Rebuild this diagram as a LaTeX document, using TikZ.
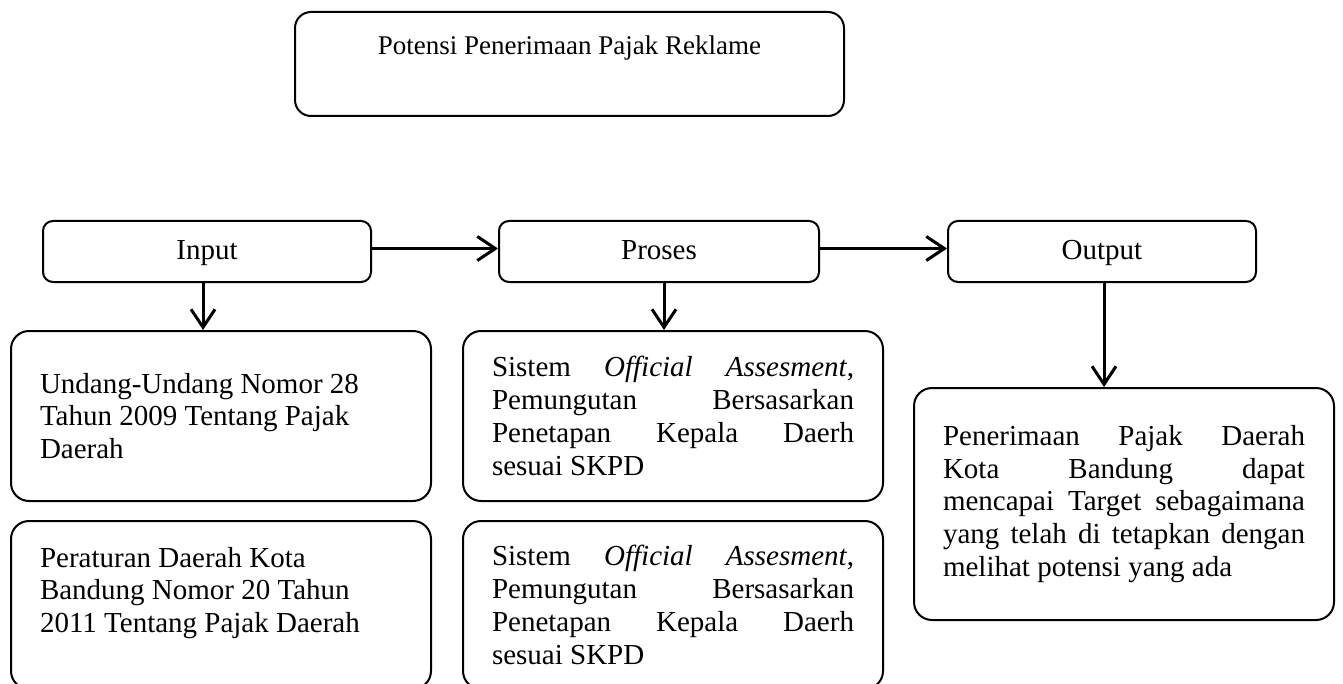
\documentclass[tikz,border=0pt]{standalone}
\usepackage{fontspec}
\setmainfont{Liberation Serif}
\usetikzlibrary{arrows.meta}
\tolerance=10000
\hbadness=10000

\begin{document}
\begin{tikzpicture}[
        x=0.5pt, y=-0.5pt,
        font=\fontsize{14.5}{16.4}\selectfont,
        headbox/.style={draw, line width=1pt, rounded corners=5pt, minimum width=#1, minimum height=30.5pt, anchor=north west, inner sep=0pt, text height=10pt, text depth=2.5pt},
        textbox/.style={draw, line width=1pt, rounded corners=9pt, minimum width=210pt, text width=181pt, anchor=north west, inner sep=0pt},
        arrow/.style={line width=1.5pt, -{Straight Barb[length=9pt, width=12pt]}}
    ]
    \useasboundingbox (0,0) rectangle (1343,684);

    % ==========================================
    % TOP: title box
    % ==========================================
    \node[draw, line width=1pt, rounded corners=8pt, minimum width=274.5pt, minimum height=52pt, anchor=north west, inner sep=0pt,
          font=\fontsize{13.5}{16}\selectfont, text height=10pt, text depth=19pt] (potensi) at (294,11) {Potensi Penerimaan Pajak Reklame};

    % ==========================================
    % ROW 1: Input -> Proses -> Output
    % ==========================================
    \node[headbox=164pt] (input) at (42,220) {Input};
    \node[headbox=160pt] (proses) at (498,220) {Proses};
    \node[headbox=154pt] (output) at (947,220) {Output};

    \draw[arrow] ([yshift=1.5pt]input.east) -- ([yshift=1.5pt]proses.west);
    \draw[arrow] ([yshift=1.5pt]proses.east) -- ([yshift=1.5pt]output.west);

    % ==========================================
    % ROW 2: legal basis / system / result
    % ==========================================
    \node[textbox, minimum height=85pt, align=flush left] (uu) at (10,330)
        {Undang-Undang Nomor 28\\Tahun 2009 Tentang Pajak\\Daerah};
    \node[textbox, minimum height=84pt, align=flush left, text height=10pt, text depth=48pt] (perda) at (10,520)
        {Peraturan Daerah Kota\\Bandung Nomor 20 Tahun\\2011 Tentang Pajak Daerah};

    \node[textbox, minimum height=85pt, align=justify] (sistem) at (462,330)
        {Sistem \emph{Official Assesment},\linebreak Pemungutan Bersasarkan\linebreak Penetapan Kepala Daerh\linebreak sesuai SKPD};
    \node[textbox, minimum height=84pt, align=justify] (sistemb) at (462,520)
        {Sistem \emph{Official Assesment},\linebreak Pemungutan Bersasarkan\linebreak Penetapan Kepala Daerh\linebreak sesuai SKPD};

    \node[textbox, minimum height=116pt, align=justify] (hasil) at (913,387)
        {Penerimaan Pajak Daerah\linebreak Kota Bandung dapat\linebreak mencapai Target sebagaimana\linebreak yang telah di tetapkan dengan\linebreak melihat potensi yang ada};

    % down arrows
    \coordinate (indown) at ([xshift=-2pt]input.south);
    \coordinate (prdown) at ([xshift=2.5pt]proses.south);
    \coordinate (outdown) at ([xshift=1pt]output.south);
    \draw[arrow] (indown) -- (indown |- uu.north);
    \draw[arrow] (prdown) -- (prdown |- sistem.north);
    \draw[arrow] (outdown) -- (outdown |- hasil.north);

\end{tikzpicture}
\end{document}
